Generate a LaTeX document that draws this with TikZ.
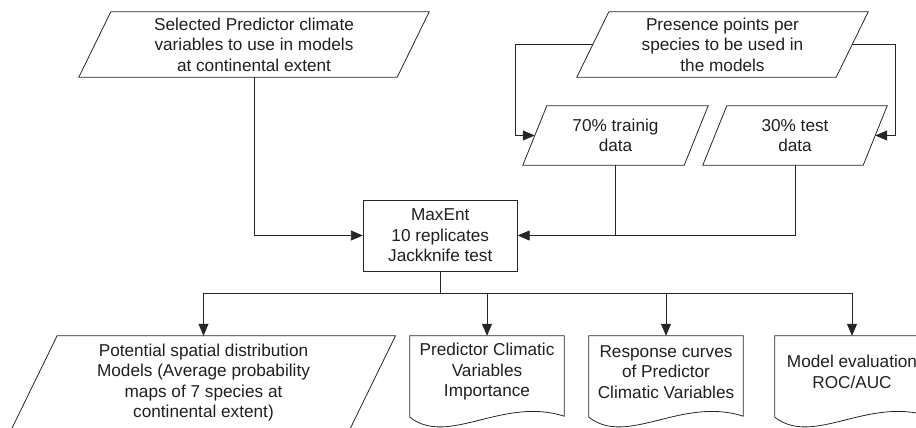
\documentclass[tikz,border=0pt]{standalone}
\usepackage{fontspec}
\setmainfont{Liberation Sans}
\usetikzlibrary{calc,arrows.meta}
\newcommand\drawpara[2]{\draw[outline] ($(#1.north west)+(#2,0)$) -- ($(#1.north east)+(#2,0)$) -- ($(#1.south east)-(#2,0)$) -- ($(#1.south west)-(#2,0)$) -- cycle;}
\newcommand\drawdoc[1]{\draw[outline] (#1.north west) -- ($(#1.south west)+(0,9)$) .. controls ($(#1.south west)!0.25!(#1.south east)+(0,39)$) and ($(#1.south west)!0.6!(#1.south east)+(0,-12)$) .. ($(#1.south east)+(0,8)$) -- (#1.north east) -- cycle;}
\begin{document}
\begin{tikzpicture}[x=1pt,y=-1pt,
  outline/.style={draw=black!85,line width=0.8pt},
  txt/.style={font=\fontsize{17.2}{20.5}\selectfont,text=black!88,align=center,inner sep=0pt,draw=none},
  boxnode/.style={txt,draw=black!85,line width=0.8pt,minimum width=154pt,minimum height=71pt},
  conn/.style={draw=black!85,line width=0.8pt},
  arr/.style={conn,-{Triangle[length=12pt,width=10pt]}}]
\useasboundingbox (0,0) rectangle (916,428);
\clip (0,0) rectangle (916,428);
% input parallelograms
\node[txt,minimum width=318pt,minimum height=65pt] (sel) at (254,44.5) {Selected Predictor climate\\variables to use in models\\at continental extent};
\drawpara{sel}{16}
\node[txt,minimum width=259pt,minimum height=65pt] (pres) at (722.5,44.5) {Presence points per\\species to be used in\\the models};
\drawpara{pres}{16}
\node[txt,minimum width=161pt,minimum height=59pt] (train) at (615.5,135.5) {70\% trainig\\data};
\drawpara{train}{12}
\node[txt,minimum width=160pt,minimum height=59pt] (test) at (795,135.5) {30\% test\\data};
\drawpara{test}{12}
% MaxEnt
\node[boxnode] (maxent) at (440.25,235.5) {MaxEnt\\10 replicates\\Jackknife test};
% outputs
\node[txt,minimum width=338pt,minimum height=93pt] (pot) at (203.5,382.5) {Potential spatial distribution\\Models (Average probability\\maps of 7 species at\\continental extent)};
\drawpara{pot}{22.8}
\node[txt,minimum width=154pt,minimum height=72pt] (pred) at (487,372) {Predictor Climatic\\Variables\\Importance};
\drawdoc{pred}
\node[txt,minimum width=154pt,minimum height=72pt] (resp) at (666,372) {Response curves\\of Predictor\\Climatic Variables};
\drawdoc{resp}
\node[txt,minimum width=154pt,minimum height=72pt] (model) at (852,372) {Model evaluation\\ROC/AUC};
\drawdoc{model}
% connectors
\draw[arr] (pres.west) -- ++(-77,0) |- (train.west);
\draw[arr] (pres.east) -- ++(43,0) |- (test.east);
\draw[arr] (sel.south) |- (maxent.west);
\draw[arr] (test.south) |- (maxent.east);
\draw[conn] (train.south) -- (train.south |- maxent.east);
\draw[conn] (maxent.south) -- ++(0,22) coordinate (j);
\draw[conn] (pot.north |- j) -- (model.north |- j);
\draw[arr] (pot.north |- j) -- (pot.north);
\draw[arr] (pred.north |- j) -- (pred.north);
\draw[arr] (resp.north |- j) -- (resp.north);
\draw[arr] (model.north |- j) -- (model.north);
\end{tikzpicture}
\end{document}
